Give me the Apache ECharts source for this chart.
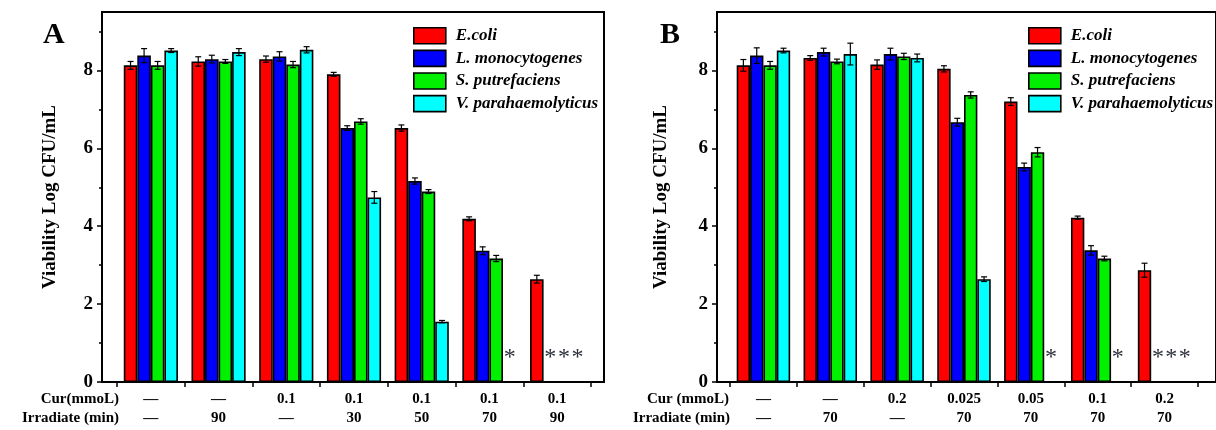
<!DOCTYPE html>
<html>
<head>
<meta charset="utf-8">
<script src="https://cdn.jsdelivr.net/npm/echarts@6/dist/echarts.min.js"></script>
<style>
  html, body { margin: 0; padding: 0; background: #fff; }
  #chart { width: 1216px; height: 430px; }
</style>
</head>
<body>
<div id="chart"></div>
<script>
// species (legend order)
const species = ['E.coli', 'L. monocytogenes', 'S. putrefaciens', 'V. parahaemolyticus']
const colors = ['#ff0000', '#0000ff', '#00f000', '#00ffff']

// panel A: Cur 0.1 mmol/L, different irradiation times
const curA = ['—', '—', '0.1', '0.1', '0.1', '0.1', '0.1']
const irrA = ['—', '90', '—', '30', '50', '70', '90']
const ecoliA = [8.13, 8.23, 8.29, 7.90, 6.52, 4.19, 2.64]
const listeriaA = [8.38, 8.29, 8.36, 6.52, 5.16, 3.37, null]
const shewA = [8.13, 8.23, 8.15, 6.69, 4.89, 3.17, null]
const vibrioA = [8.51, 8.47, 8.53, 4.74, 1.55, null, null]
const ecoliErrA = [0.10, 0.12, 0.08, 0.05, 0.08, 0.05, 0.10]
const listeriaErrA = [0.18, 0.10, 0.12, 0.06, 0.08, 0.10, null]
const shewErrA = [0.10, 0.05, 0.08, 0.07, 0.05, 0.08, null]
const vibrioErrA = [0.05, 0.09, 0.08, 0.15, 0.03, null, null]

// panel B: irradiation 70 min, different Cur concentrations
const curB = ['—', '—', '0.2', '0.025', '0.05', '0.1', '0.2']
const irrB = ['—', '70', '—', '70', '70', '70', '70']
const ecoliB = [8.13, 8.32, 8.15, 8.04, 7.20, 4.22, 2.87]
const listeriaB = [8.38, 8.47, 8.42, 6.67, 5.52, 3.38, null]
const shewB = [8.13, 8.23, 8.36, 7.37, 5.90, 3.17, null]
const vibrioB = [8.51, 8.42, 8.32, 2.64, null, null, null]
const ecoliErrB = [0.15, 0.06, 0.12, 0.08, 0.10, 0.04, 0.18]
const listeriaErrB = [0.20, 0.10, 0.15, 0.10, 0.10, 0.12, null]
const shewErrB = [0.10, 0.06, 0.08, 0.08, 0.12, 0.06, null]
const vibrioErrB = [0.06, 0.28, 0.10, 0.06, null, null, null]

const yTicks = [0, 2, 4, 6, 8]
const yMinorTicks = [1, 3, 5, 7, 9]

const FONT = 'Liberation Serif'
const BAR_FRAC = 0.2 // bar width / category width (barCategoryGap 20%, 4 bars)

const chart = echarts.init(document.getElementById('chart'))

function barSeries(name, color, values, xIdx, yIdx) {
  return {
    name: name,
    type: 'bar',
    xAxisIndex: xIdx,
    yAxisIndex: yIdx,
    barGap: '0%',
    barCategoryGap: '20%',
    itemStyle: { color: color, borderColor: '#000', borderWidth: 1.6 },
    data: values.map(v => {
      if (v === null) {
        // not detected -> asterisk
        return {
          value: 0,
          itemStyle: { borderWidth: 0 },
          label: {
            show: true,
            position: 'top',
            distance: 12,
            formatter: '*',
            color: '#2b2f3a',
            fontFamily: FONT,
            fontSize: 24
          }
        }
      }
      return v
    })
  }
}

function errorSeries(valueLists, errLists, xIdx, yIdx) {
  const data = []
  valueLists.forEach((vals, s) => {
    vals.forEach((v, i) => {
      const e = errLists[s][i]
      if (v !== null && e !== null) data.push([i, v - e, v + e, s])
    })
  })
  return {
    type: 'custom',
    xAxisIndex: xIdx,
    yAxisIndex: yIdx,
    silent: true,
    z: 5,
    encode: { x: 0, y: [1, 2] },
    data: data,
    renderItem(params, api) {
      const cat = api.value(0)
      const s = api.value(3)
      const w = api.size([1, 0])[0]
      const x = api.coord([cat, 0])[0] + (s - 1.5) * w * BAR_FRAC
      const lo = api.coord([cat, api.value(1)])[1]
      const hi = api.coord([cat, api.value(2)])[1]
      const cap = 3
      const style = { stroke: '#000', lineWidth: 1.2 }
      return {
        type: 'group',
        children: [
          { type: 'line', shape: { x1: x, y1: lo, x2: x, y2: hi }, style: style },
          { type: 'line', shape: { x1: x - cap, y1: lo, x2: x + cap, y2: lo }, style: style },
          { type: 'line', shape: { x1: x - cap, y1: hi, x2: x + cap, y2: hi }, style: style }
        ]
      }
    }
  }
}

function frameYAxes(gridIndex, nameGap) {
  return [
    {
      gridIndex: gridIndex,
      type: 'value',
      position: 'left',
      min: 0,
      max: 9.5,
      interval: 2,
      name: 'Viability Log CFU/mL',
      nameLocation: 'middle',
      nameGap: nameGap,
      nameTextStyle: { fontFamily: FONT, fontWeight: 'bold', fontSize: 19, color: '#000' },
      axisLine: { show: false },
      splitLine: { show: false },
      axisTick: { show: true, length: 5, customValues: yTicks, lineStyle: { color: '#000', width: 1.5 } },
      axisLabel: { customValues: yTicks, margin: 9, fontFamily: FONT, fontWeight: 'bold', fontSize: 19, color: '#000' }
    },
    {
      gridIndex: gridIndex,
      type: 'value',
      position: 'left',
      min: 0,
      max: 9.5,
      axisLine: { show: false },
      splitLine: { show: false },
      axisLabel: { show: false },
      axisTick: { show: true, length: 3, customValues: yMinorTicks, lineStyle: { color: '#000', width: 1.5 } }
    }
  ]
}

function categoryAxis(gridIndex, cur, irr) {
  return {
    gridIndex: gridIndex,
    type: 'category',
    data: cur.map((c, i) => c + '\n' + irr[i]),
    axisLine: { show: false },
    axisTick: { show: true, length: 5, lineStyle: { color: '#000', width: 1.5 } },
    axisLabel: { margin: 8, fontFamily: FONT, fontWeight: 'bold', fontSize: 15, lineHeight: 19, color: '#000' },
    splitLine: { show: false }
  }
}

function hiddenY(gridIndex) {
  return { gridIndex: gridIndex, type: 'value', min: 0, max: 9.5, show: false, splitLine: { show: false } }
}

function rowText(text, x, y) {
  return {
    type: 'text',
    x: x,
    y: y,
    style: { text: text, textAlign: 'right', textVerticalAlign: 'middle', font: 'bold 15px "' + FONT + '"', fill: '#000' }
  }
}

function panelLetter(text, x) {
  return {
    type: 'text',
    x: x,
    y: 35,
    style: { text: text, textAlign: 'left', textVerticalAlign: 'middle', font: 'bold 30px "' + FONT + '"', fill: '#000' }
  }
}

function legend(left) {
  return {
    data: species,
    orient: 'vertical',
    left: left,
    top: 27,
    padding: 0,
    icon: 'rect',
    itemWidth: 32,
    itemHeight: 16,
    itemGap: 5,
    selectedMode: false,
    itemStyle: { borderColor: '#000', borderWidth: 1.6 },
    textStyle: { fontFamily: FONT, fontWeight: 'bold', fontStyle: 'italic', fontSize: 17, color: '#000', padding: [0, 0, 0, 5] }
  }
}

const seriesA = [ecoliA, listeriaA, shewA, vibrioA]
const seriesB = [ecoliB, listeriaB, shewB, vibrioB]

chart.setOption({
  animation: false,
  backgroundColor: '#fff',
  legend: [legend(413), legend(1028)],
  grid: [
    // frames
    { left: 102, top: 12, width: 502, bottom: 48, show: true, borderColor: '#000', borderWidth: 2, backgroundColor: 'transparent' },
    // data area A
    { left: 117, top: 12, width: 474, bottom: 48 },
    // frame B runs off the right edge, as in the figure
    { left: 717, top: 12, width: 510, bottom: 48, show: true, borderColor: '#000', borderWidth: 2, backgroundColor: 'transparent' },
    // data area B
    { left: 730, top: 12, width: 468, bottom: 48 }
  ],
  xAxis: [
    { gridIndex: 0, type: 'value', show: false, splitLine: { show: false } },
    categoryAxis(1, curA, irrA),
    { gridIndex: 2, type: 'value', show: false, splitLine: { show: false } },
    categoryAxis(3, curB, irrB)
  ],
  yAxis: [
    ...frameYAxes(0, 42),
    hiddenY(1),
    ...frameYAxes(2, 46),
    hiddenY(3)
  ],
  graphic: [
    panelLetter('A', 43),
    panelLetter('B', 660),
    rowText('Cur(mmoL)', 119, 399),
    rowText('Irradiate (min)', 119, 418),
    rowText('Cur (mmoL)', 729, 399),
    rowText('Irradiate (min)', 730, 418)
  ],
  series: [
    ...species.map((n, s) => barSeries(n, colors[s], seriesA[s], 1, 2)),
    errorSeries(seriesA, [ecoliErrA, listeriaErrA, shewErrA, vibrioErrA], 1, 2),
    ...species.map((n, s) => barSeries(n, colors[s], seriesB[s], 3, 5)),
    errorSeries(seriesB, [ecoliErrB, listeriaErrB, shewErrB, vibrioErrB], 3, 5)
  ]
})
</script>
</body>
</html>
